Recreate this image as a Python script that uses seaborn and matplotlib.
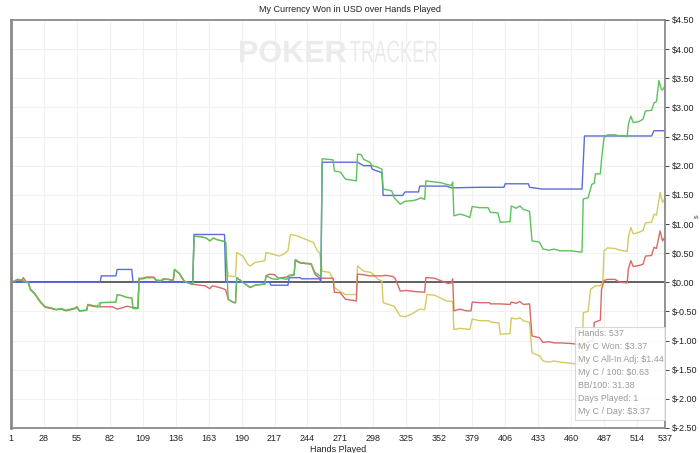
"""Cumulative currency won over hands played (PokerTracker style)"""

import numpy as np
import pandas as pd
import seaborn as sns
import matplotlib.pyplot as plt
from matplotlib.textpath import TextPath
from matplotlib.patches import PathPatch, Rectangle
from matplotlib.font_manager import FontProperties
import matplotlib.transforms as mtransforms

sns.set_style('white')
plt.rcParams['font.family'] = ['Liberation Sans', 'DejaVu Sans']

# Green: total won
won_hands = [1, 4, 6, 10, 12, 15, 17, 20, 25, 29, 34, 38, 42, 46, 50, 54, 55, 57, 63, 64, 68, 71, 74, 74,
             87, 88, 92, 96, 100, 101, 105, 106, 109, 112, 118, 120, 124, 126, 130, 134, 135, 139, 143, 146,
             149, 150, 151, 157, 161, 164, 167, 170, 176, 177, 179, 181, 184, 185, 186, 191, 197, 201, 205,
             209, 210, 215, 219, 222, 227, 229, 233, 234, 238, 247, 250, 254, 255, 256, 265, 266, 271, 275,
             284, 285, 288, 290, 295, 297, 301, 305, 306, 313, 315, 320, 324, 330, 334, 337, 340, 341, 348,
             353, 358, 362, 363, 364, 369, 374, 377, 379, 385, 392, 394, 400, 402, 410, 411, 415, 418, 421,
             424, 426, 428, 434, 437, 442, 446, 451, 460, 467, 469, 470, 474, 477, 479, 480, 484, 485, 487,
             490, 496, 500, 506, 507, 509, 511, 516, 519, 521, 526, 528, 530, 532, 534, 535, 537]
won_usd = [0.0, 0.02, 0.05, 0.04, 0.01, 0.0, -0.12, -0.18, -0.33, -0.42, -0.44, -0.47, -0.45, -0.48, -0.46,
           -0.44, -0.42, -0.49, -0.48, -0.38, -0.40, -0.41, -0.41, -0.35, -0.34, -0.21, -0.23, -0.26, -0.27,
           -0.45, -0.45, 0.06, 0.06, 0.08, 0.08, 0.03, 0.02, 0.05, 0.05, 0.03, 0.22, 0.15, 0.02, -0.01,
           -0.03, -0.03, 0.79, 0.78, 0.76, 0.71, 0.76, 0.73, 0.70, 0.68, -0.29, -0.32, -0.35, -0.35, 0.08,
           0.0, -0.09, -0.05, -0.04, -0.03, 0.11, 0.06, 0.05, 0.07, 0.05, 0.11, 0.12, 0.39, 0.34, 0.32,
           0.17, 0.11, 0.10, 2.12, 2.10, 1.91, 1.89, 1.77, 1.74, 2.20, 2.19, 2.11, 2.06, 2.00, 1.98, 1.94,
           1.60, 1.57, 1.45, 1.34, 1.39, 1.40, 1.42, 1.45, 1.42, 1.74, 1.72, 1.71, 1.68, 1.66, 1.72, 1.14,
           1.17, 1.14, 1.11, 1.30, 1.28, 1.28, 1.20, 1.19, 1.03, 1.04, 1.31, 1.27, 1.31, 1.25, 1.23, 1.22,
           0.71, 0.69, 0.57, 0.55, 0.57, 0.54, 0.54, 0.52, 0.52, 1.43, 1.45, 1.68, 1.70, 1.86, 1.86, 2.11,
           2.48, 2.53, 2.53, 2.51, 2.50, 2.71, 2.85, 2.74, 2.76, 2.80, 2.94, 2.95, 3.08, 3.10, 3.46, 3.31,
           3.30, 3.37]

# Red: non-showdown winnings
nsd_hands = [1, 4, 6, 10, 11, 13, 15, 17, 20, 25, 29, 34, 38, 42, 46, 50, 54, 55, 57, 63, 64, 68, 71, 74,
             84, 88, 92, 96, 100, 105, 106, 109, 112, 118, 120, 124, 126, 130, 134, 135, 139, 143, 146, 149,
             152, 156, 160, 164, 166, 170, 175, 177, 179, 181, 184, 185, 186, 191, 197, 201, 209, 210, 213,
             217, 220, 227, 229, 233, 234, 238, 247, 250, 254, 265, 266, 271, 275, 284, 285, 290, 295, 300,
             305, 308, 314, 316, 320, 325, 332, 340, 341, 348, 354, 359, 362, 363, 364, 369, 374, 378, 379,
             385, 393, 394, 401, 410, 411, 415, 418, 421, 426, 428, 434, 437, 442, 446, 451, 460, 467, 478,
             479, 484, 485, 487, 490, 496, 500, 506, 507, 509, 511, 516, 519, 521, 526, 528, 530, 533, 535,
             537]
nsd_usd = [0.0, 0.02, 0.04, 0.03, 0.08, 0.02, 0.0, -0.13, -0.19, -0.34, -0.43, -0.45, -0.47, -0.46, -0.49,
           -0.47, -0.45, -0.42, -0.49, -0.48, -0.39, -0.41, -0.42, -0.42, -0.42, -0.46, -0.44, -0.41, -0.43,
           -0.44, 0.07, 0.07, 0.09, 0.09, 0.04, 0.03, 0.06, 0.05, 0.03, 0.22, 0.15, 0.02, -0.01, -0.03,
           -0.04, -0.05, -0.06, -0.11, -0.06, -0.08, -0.11, -0.13, -0.29, -0.32, -0.35, -0.35, 0.08, 0.0,
           -0.09, -0.05, -0.03, 0.11, 0.14, 0.13, 0.07, 0.09, 0.12, 0.13, 0.37, 0.33, 0.31, 0.14, 0.07,
           0.07, -0.17, -0.18, -0.29, -0.32, 0.14, 0.13, 0.11, 0.11, 0.11, 0.12, 0.10, 0.06, -0.15, -0.14,
           -0.16, -0.17, 0.08, 0.07, 0.02, -0.02, -0.01, 0.06, -0.49, -0.46, -0.49, -0.49, -0.34, -0.35,
           -0.35, -0.37, -0.37, -0.38, -0.34, -0.36, -0.33, -0.38, -0.37, -0.92, -0.95, -1.03, -1.02, -1.04,
           -1.04, -1.05, -1.07, -1.00, -0.69, -0.65, -0.12, 0.03, 0.05, 0.05, 0.0, -0.01, 0.23, 0.37, 0.27,
           0.29, 0.31, 0.45, 0.46, 0.60, 0.58, 0.88, 0.71, 0.78]

# Yellow: all-in adjusted winnings
adj_hands = [1, 4, 6, 10, 12, 15, 17, 20, 25, 29, 34, 38, 42, 46, 50, 54, 55, 57, 63, 64, 68, 71, 74, 87,
             88, 92, 96, 100, 101, 105, 106, 109, 112, 118, 120, 124, 126, 130, 134, 135, 139, 143, 146, 149,
             150, 151, 157, 161, 164, 167, 170, 176, 177, 178, 179, 183, 185, 186, 191, 195, 197, 201, 209,
             210, 216, 221, 225, 228, 230, 235, 241, 249, 252, 254, 256, 262, 265, 266, 271, 275, 284, 285,
             290, 296, 302, 305, 306, 315, 320, 324, 329, 336, 340, 342, 348, 353, 358, 363, 364, 369, 377,
             379, 385, 393, 394, 401, 402, 410, 411, 415, 418, 421, 426, 428, 434, 437, 442, 446, 451, 460,
             467, 469, 470, 474, 476, 480, 484, 486, 487, 490, 496, 500, 506, 507, 509, 511, 516, 519, 521,
             526, 528, 530, 533, 535, 537]
adj_usd = [0.0, 0.02, 0.05, 0.04, 0.01, 0.0, -0.12, -0.18, -0.33, -0.42, -0.44, -0.47, -0.45, -0.48, -0.46,
           -0.44, -0.42, -0.49, -0.48, -0.38, -0.40, -0.41, -0.35, -0.34, -0.21, -0.23, -0.26, -0.27, -0.45,
           -0.45, 0.06, 0.06, 0.08, 0.08, 0.03, 0.02, 0.05, 0.05, 0.03, 0.22, 0.15, 0.02, -0.01, -0.03,
           -0.03, 0.79, 0.78, 0.76, 0.71, 0.76, 0.73, 0.70, 0.68, 0.28, 0.11, 0.10, 0.10, 0.51, 0.45, 0.31,
           0.28, 0.34, 0.37, 0.51, 0.48, 0.45, 0.49, 0.54, 0.82, 0.80, 0.75, 0.68, 0.54, 0.51, 0.19, 0.17,
           0.05, -0.09, -0.16, -0.21, -0.21, 0.28, 0.19, 0.17, 0.05, 0.02, -0.35, -0.41, -0.58, -0.59,
           -0.55, -0.46, -0.47, -0.21, -0.22, -0.27, -0.32, -0.33, -0.81, -0.79, -0.81, -0.63, -0.66, -0.66,
           -0.68, -0.70, -0.89, -0.88, -0.61, -0.63, -0.61, -0.66, -0.69, -1.21, -1.26, -1.35, -1.37, -1.35,
           -1.37, -1.39, -1.41, -1.41, -0.52, -0.50, -0.12, -0.06, -0.06, -0.02, 0.54, 0.59, 0.58, 0.55,
           0.53, 0.77, 0.94, 0.83, 0.86, 0.89, 1.02, 1.03, 1.17, 1.15, 1.54, 1.37, 1.44]

# Blue: showdown winnings
sd_hands = [1, 74, 75, 87, 88, 100, 101, 150, 151, 176, 177, 213, 214, 228, 229, 238, 239, 254, 255, 256,
            285, 290, 296, 297, 305, 306, 322, 324, 335, 336, 358, 362, 385, 405, 406, 425, 426, 436, 469,
            471, 526, 528, 537]
sd_usd = [0.0, 0.0, 0.11, 0.11, 0.22, 0.22, 0.0, 0.0, 0.82, 0.82, 0.0, 0.0, -0.05, -0.05, 0.08, 0.08,
          0.06, 0.06, 0.0, 2.06, 2.06, 2.00, 2.00, 1.94, 1.88, 1.49, 1.49, 1.55, 1.55, 1.65, 1.65, 1.62,
          1.63, 1.63, 1.69, 1.69, 1.63, 1.60, 1.60, 2.51, 2.51, 2.60, 2.60]

series_names = ['All-In Adj', 'Non-Showdown', 'Showdown', 'Won']
series_colors = ['#d2cb63', '#d86a63', '#5c6cd8', '#5cc25c']

stats_lines = ['Hands: 537', 'My C Won: $3.37', 'My C All-In Adj: $1.44', 'My C / 100: $0.63',
               'BB/100: 31.38', 'Days Played: 1', 'My C / Day: $3.37']

hand_ticks = [1, 28, 55, 82, 109, 136, 163, 190, 217, 244, 271, 298, 325, 352, 379, 406, 433, 460,
              487, 514, 537]
usd_ticks = [-2.5, -2.0, -1.5, -1.0, -0.5, 0.0, 0.5, 1.0, 1.5, 2.0, 2.5, 3.0, 3.5, 4.0, 4.5]

frames = []
for name, h, v in zip(series_names, [adj_hands, nsd_hands, sd_hands, won_hands],
                      [adj_usd, nsd_usd, sd_usd, won_usd]):
    frames.append(pd.DataFrame({'hand': h, 'usd': v, 'series': name}))
df = pd.concat(frames, ignore_index=True)

W, H = 700, 453
fig = plt.figure(figsize=(W / 100, H / 100), dpi=100)
ax = fig.add_axes([11 / W, 25 / H, 654 / W, 408 / H])

ax.axhline(0, color='#555555', lw=1.3, zorder=1.5)
sns.lineplot(data=df, x='hand', y='usd', hue='series', hue_order=series_names,
             palette=series_colors, estimator=None, sort=False, lw=1.0,
             legend=False, ax=ax, zorder=2)

ax.set_xlim(1, 537)
ax.set_ylim(-2.5, 4.5)
ax.set_xticks(hand_ticks)
ax.set_yticks(usd_ticks)
ax.set_yticklabels([f'${v:.2f}' for v in usd_ticks])
ax.yaxis.tick_right()
ax.yaxis.set_label_position('right')
ax.grid(True, color='#f1f1f1', lw=0.8)
ax.tick_params(axis='both', labelsize=6.5, colors='#222222', length=3, width=0.6,
               direction='out', pad=1.5)
ax.tick_params(axis='y', right=True, left=False, pad=2)
for sp in ax.spines.values():
    sp.set_color('#8a8a8a')
    sp.set_linewidth(1.3)
ax.spines['left'].set_linewidth(2)
ax.set_xlabel('Hands Played', fontsize=6.5, color='#222222', labelpad=1)
ax.set_ylabel('$', fontsize=4.5, color='#444444', rotation=90)
ax.yaxis.set_label_coords((694 - 11) / 654, 0.52)

fig.text(0.5, 1 - 9 / H, 'My Currency Won in USD over Hands Played', ha='center', va='center',
         fontsize=6.5, color='#222222')


def watermark(word, weight, x0, x1, base, cap=22):
    """Draw a word as a light path squeezed to fit between x0 and x1 (pixels)"""
    prop = FontProperties(family='Liberation Sans', weight=weight)
    tp = TextPath((0, 0), word, size=cap / 0.716, prop=prop)
    ext = tp.get_extents()
    tr = (mtransforms.Affine2D().translate(-ext.x0, 0)
          .scale((x1 - x0) / ext.width, 1).translate(x0, H - base)
          + mtransforms.Affine2D().scale(1 / W, 1 / H))
    fig.add_artist(PathPatch(tr.transform_path(tp), transform=fig.transFigure,
                             fc='#ebebeb', ec='none', zorder=0.5))


watermark('POKER', 'bold', 240, 346, 62)
watermark('TRACKER', 'normal', 350, 437, 62)

# stats box, placed in pixels from the top-left corner
fig.add_artist(Rectangle((575 / W, 1 - 420 / H), 90 / W, 93 / H, transform=fig.transFigure,
                         fc='white', ec='#d2d2d2', lw=0.8, alpha=0.85, zorder=5))
for i, line in enumerate(stats_lines):
    fig.text(578 / W, 1 - (336 + 13 * i) / H, line, fontsize=6.4, color='#9a9a9a',
             ha='left', va='baseline', zorder=6)

fig.savefig('out.png', dpi=100)
